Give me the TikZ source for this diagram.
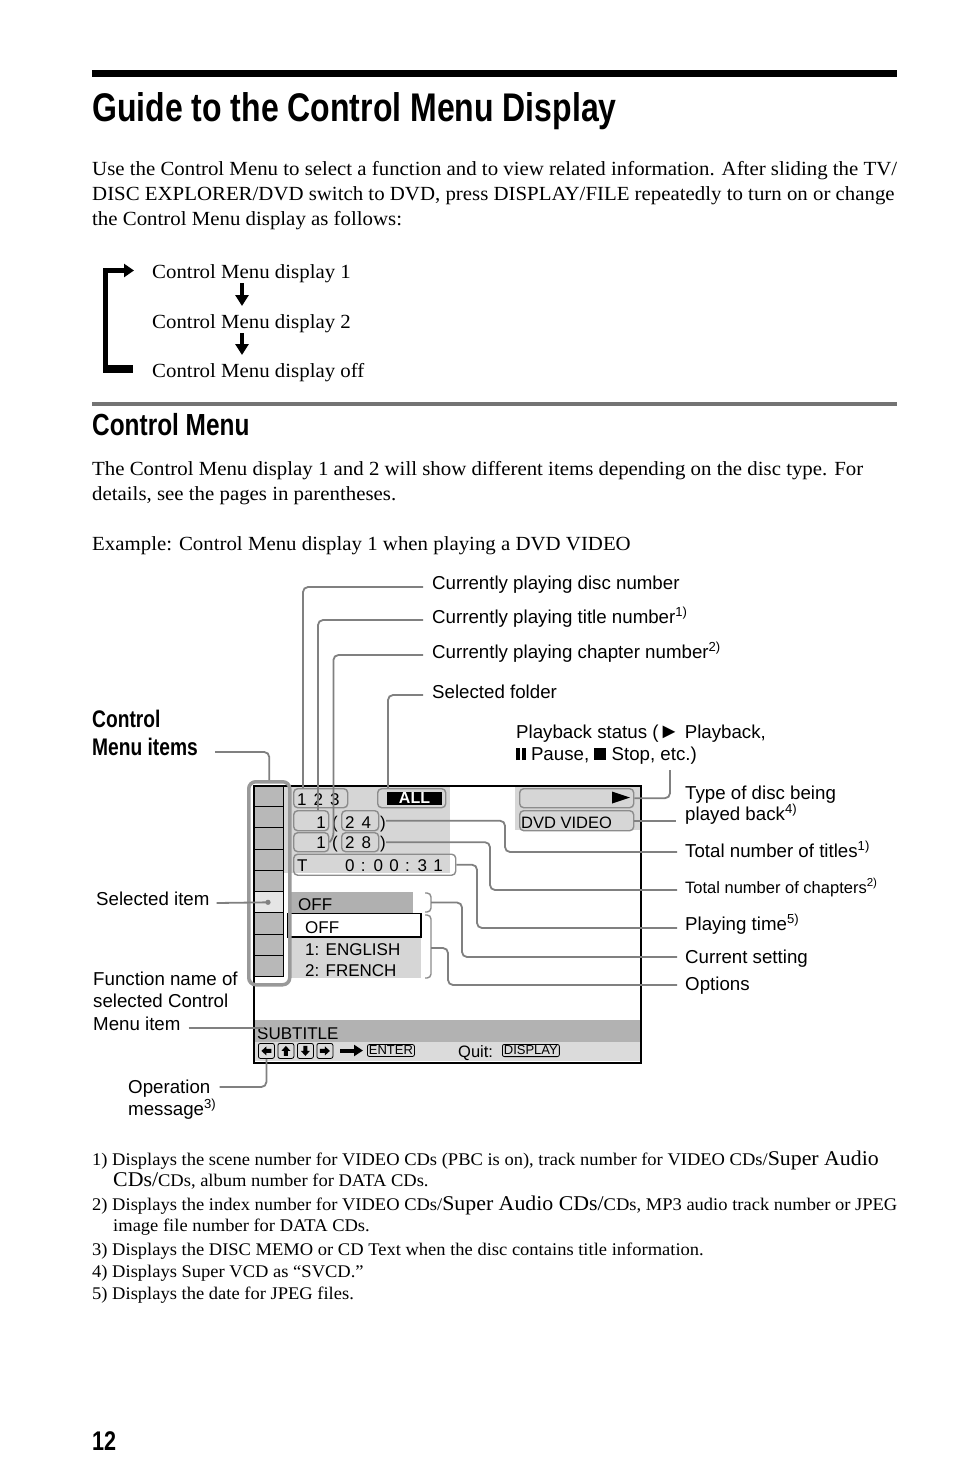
\documentclass[tikz,border=0pt]{standalone}
\usepackage{fontspec}
\setmainfont[FakeStretch=1.04]{Liberation Serif}
\newfontfamily\hv{Liberation Sans}
\newfontfamily\hvb{Liberation Sans Bold}
\newfontfamily\cond[FakeStretch=0.8]{Liberation Sans Bold}
\usetikzlibrary{arrows.meta,calc}
\newcommand\fs[1]{\fontsize{#1pt}{#1pt}\selectfont}
\definecolor{zone}{gray}{0.84}
\definecolor{cellgray}{gray}{0.72}
\definecolor{selgray}{gray}{0.9}
\definecolor{offgray}{gray}{0.69}
\definecolor{optgray}{gray}{0.84}
\definecolor{subgray}{gray}{0.7}
\definecolor{lowgray}{gray}{0.86}
\definecolor{boxgray}{gray}{0.55}
\definecolor{callgray}{gray}{0.5}
\definecolor{framegray}{gray}{0.6}
\definecolor{rulegray}{gray}{0.45}
\begin{document}
\begin{tikzpicture}[x=1pt,y=-1pt,
  txt/.style={inner sep=0pt, anchor=base west},
  body/.style={txt, font=\fs{20.05}},
  foot/.style={txt, font=\fs{17.8}},
  lbl/.style={txt, font=\hv\fs{18.7}},
  scr/.style={txt, font=\hv\fs{17}},
  call/.style={draw=callgray, line width=1.8pt, rounded corners=5pt},
  sbox/.style={draw=boxgray, line width=1.4pt, rounded corners=4pt, anchor=north west, inner sep=0pt},
  flowarr/.style={line width=4.5pt, -{Triangle[width=13pt,length=11pt]}},
  icon/.style={draw, line width=0.8pt, rounded corners=2pt, minimum width=16pt, minimum height=15pt, anchor=north west, inner sep=0pt},
  keybox/.style={draw, line width=0.8pt, rounded corners=2pt, inner sep=1.5pt, font=\hv\fs{13}},
  arr/.pic={\fill (-5,0) -- (0,-4.5) -- (0,-2) -- (5,-2) -- (5,2) -- (0,2) -- (0,4.5) -- cycle;}
]
\fill[white] (0,0) rectangle (954,1483);
\useasboundingbox (0,0) rectangle (954,1483);

% header
\draw[line width=7pt] (92,73.5) -- (897,73.5);
\node[txt, font=\cond\fs{40}] (h1) at (92,121) {Guide to the Control Menu Display};
\node[body] (p1) at (92,175) {Use the Control Menu to select a function and to view related information. After sliding the TV/};
\node[body] (p2) at (92,200) {DISC EXPLORER/DVD switch to DVD, press DISPLAY/FILE repeatedly to turn on or change};
\node[body] (p3) at (92,225) {the Control Menu display as follows:};

% flow
\node[body] (f1) at (152,278) {Control Menu display 1};
\node[body] (f2) at (152,328) {Control Menu display 2};
\node[body] (f3) at (152,377) {Control Menu display off};
\draw[flowarr] ($(f1.base west)+(90,5)$) -- ($(f2.base west)+(90,-22)$);
\draw[flowarr] ($(f2.base west)+(90,5)$) -- ($(f3.base west)+(90,-22)$);
\fill (103,365) rectangle (133,373);
\draw[line width=5pt, line join=miter, -{Triangle[width=13pt,length=10pt]}] ($(f3.base west)+(-19,-8)$) -- (105.5,369) -- (105.5,270.5) -- ($(f1.base west)+(-18,-7.5)$);

% section
\draw[rulegray, line width=4pt] (92,404) -- (897,404);
\node[txt, font=\cond\fs{30.5}] (h2) at (92,435) {Control Menu};
\node[body] (q1) at (92,475) {The Control Menu display 1 and 2 will show different items depending on the disc type. For};
\node[body] (q2) at (92,500) {details, see the pages in parentheses.};
\node[body] (q3) at (92,550) {Example: Control Menu display 1 when playing a DVD VIDEO};

% screen fills
\fill[zone] (283,785) rectangle (450,873);
\fill[zone] (515,785) rectangle (640,830);
\fill[subgray] (253,1020) rectangle (640,1042);
\fill[lowgray] (253,1042) rectangle (640,1061);
\fill[offgray] (288,892) rectangle (413,913);
\fill[optgray] (288,913) rectangle (421,978);
\draw[line width=1.5pt, fill=white] (288,913.5) rectangle (421,937);

% cells
\foreach \i in {0,...,8} {
  \draw[line width=1pt, fill=cellgray] (253,{785+\i*21.33}) rectangle (283,{785+(\i+1)*21.33});
}
\draw[line width=1pt, fill=selgray] (253,{785+5*21.33}) rectangle (283,{785+6*21.33});
\coordinate (dot) at (268,{785+5.5*21.33});
\fill[callgray] (dot) circle (2.6pt);

% screen frame
\node[draw, line width=2pt, anchor=north west, minimum width=387pt, minimum height=277pt, inner sep=0pt] (scr) at (253,785) {};
\node[draw=framegray, line width=3.5pt, rounded corners=7pt, anchor=north west, minimum width=41pt, minimum height=203pt, inner sep=0pt] (cfr) at (247,780) {};

% top-left boxes
\node[sbox, minimum width=54pt, minimum height=19pt] (b123) at (293,788) {};
\node[scr] (t123) at (297,805) {\spaceskip=7pt 1 2 3};
\node[sbox, minimum width=68pt, minimum height=19pt] (bALL) at (377,788) {};
\node[fill=black, text=white, font=\hvb\fs{16}, inner sep=0pt, minimum width=55pt, minimum height=13pt] (tAll) at (414.5,798) {ALL};
\node[sbox, minimum width=35pt, minimum height=20pt] (b1a) at (293,810) {};
\node[scr, anchor=base east] (t1a) at (326,828) {1};
\node[scr] (oa1) at (332,828) {(};
\node[sbox, minimum width=37pt, minimum height=20pt] (b24) at (341,810) {};
\node[scr] (t24) at (345,828) {\spaceskip=7pt 2 4};
\node[scr] (pa1) at (380,828) {)};
\node[sbox, minimum width=35pt, minimum height=19pt] (b1b) at (293,832) {};
\node[scr, anchor=base east] (t1b) at (326,848) {1};
\node[scr] (ob1) at (332,848) {(};
\node[sbox, minimum width=37pt, minimum height=19pt] (b28) at (341,832) {};
\node[scr] (t28) at (345,848) {\spaceskip=7pt 2 8};
\node[scr] (pb1) at (380,848) {)};
\node[sbox, minimum width=162pt, minimum height=21pt] (bT) at (293,853.5) {};
\node[scr] (tT) at (297,871) {T};
\node[scr] (tTime) at (345,871) {\spaceskip=6.3pt 0 : 0 0 : 3 1};

% top-right boxes
\node[sbox, minimum width=114pt, minimum height=19pt] (bPlay) at (519,788) {};
\fill (612,791.5) -- (630,797.5) -- (612,803.5) -- cycle;
\node[sbox, minimum width=114pt, minimum height=20pt] (bDVD) at (519,810) {};
\node[txt, font=\hv\fs{16.5}] (tDVD) at (521,828) {DVD VIDEO};

% subtitle options
\node[scr] (tOff) at (298,910) {OFF};
\node[scr] (tOff2) at (305,933) {OFF};
\node[scr] (tEng) at (305,955) {1: ENGLISH};
\node[scr] (tFr) at (305,976) {2: FRENCH};
\draw[boxgray, line width=1.4pt, rounded corners=4pt] (425,893) -- (431,893) -- (431,912) -- (425,912);
\draw[boxgray, line width=1.4pt, rounded corners=4pt] (425,915) -- (431,915) -- (431,978) -- (425,978);
\coordinate (br1) at (431,902.5);
\coordinate (br2) at (431,948);

% bottom bars
\node[scr] (tSub) at (257,1039) {SUBTITLE};
\foreach \i in {0,...,3} { \node[icon] (ic\i) at ({258+19.5*\i},1043) {}; }
\pic at (ic0.center) {arr};
\pic[rotate=-90] at (ic1.center) {arr};
\pic[rotate=90] at (ic2.center) {arr};
\pic[rotate=180] at (ic3.center) {arr};
\draw[line width=4pt, -{Triangle[width=11pt,length=9pt]}] (340,1050.5) -- (363,1050.5);
\node[keybox, anchor=west] (kEnter) at (367,1050.5) {ENTER};
\node[txt, font=\hv\fs{16.5}] (tQuit) at (458,1057) {Quit:};
\node[keybox, anchor=west] (kDisp) at (502,1050.5) {DISPLAY};

% right labels
\node[lbl] (lDisc) at (432,589) {Currently playing disc number};
\node[lbl] (lTitle) at (432,623) {Currently playing title number\textsuperscript{1)}};
\node[lbl] (lChap) at (432,658) {Currently playing chapter number\textsuperscript{2)}};
\node[lbl] (lFold) at (432,698) {Selected folder};
\node[lbl] (lPlay1) at (516,738) {Playback status (\resizebox{21pt}{12.5pt}{►} Playback,};
\node[lbl] (lPlay2) at (516,760) {\rule{3.6pt}{12pt}\hspace{2.4pt}\rule{3.6pt}{12pt}\ Pause, \rule{12pt}{12pt} Stop, etc.)};
\node[lbl] (lType1) at (685,799) {Type of disc being};
\node[lbl] (lType2) at (685,820) {played back\textsuperscript{4)}};
\node[lbl] (lTitles) at (685,857) {Total number of titles\textsuperscript{1)}};
\node[lbl, font=\hv\fs{16.5}] (lChaps) at (685,893) {Total number of chapters\textsuperscript{2)}};
\node[lbl] (lTime) at (685,930) {Playing time\textsuperscript{5)}};
\node[lbl] (lCur) at (685,963) {Current setting};
\node[lbl] (lOpt) at (685,990) {Options};

% left labels
\node[txt, font=\cond\fs{24}] (lItems1) at (92,727) {Control};
\node[txt, font=\cond\fs{24}] (lItems2) at (92,755) {Menu items};
\node[lbl] (lSel) at (96,905) {Selected item};
\node[lbl] (lFn1) at (93,985) {Function name of};
\node[lbl] (lFn2) at (93,1007) {selected Control};
\node[lbl] (lFn3) at (93,1030) {Menu item};
\node[lbl] (lOp1) at (128,1093) {Operation};
\node[lbl] (lOp2) at (128,1115) {message\textsuperscript{3)}};

% callouts
\draw[call] ($(lDisc.base west)+(-9,-2)$) -| ([xshift=10pt]b123.north west);
\draw[call] ($(lTitle.base west)+(-9,-3)$) -| ([xshift=25pt]b1a.north west);
\draw[call] ($(lChap.base west)+(-9,-3)$) -| ($(b1b.east)+(4,-4)$) -- (b1b.east);
\draw[call] ($(lFold.base west)+(-9,-3)$) -| ([xshift=11pt]bALL.north west);
\draw[call] ($(lPlay2.base west)+(154,10)$) |- (bPlay.east);
\draw[call] (bDVD.east) -- ($(bDVD.east -| lType2.base west)+(-9,0)$);
\draw[call] (pa1.east |- b24.east) -| (505,852) -- ($(lTitles.base west)+(-8,-5)$);
\draw[call] (pb1.east |- b28.east) -| (490,890) -- ($(lChaps.base west)+(-8,-3)$);
\draw[call] (bT.east) -| (477,928) -- ($(lTime.base west)+(-8,-2)$);
\draw[call] (br1) -| (462,957) -- ($(lCur.base west)+(-8,-6)$);
\draw[call] (br2) -| (448,985) -- ($(lOpt.base west)+(-8,-5)$);
\draw[call] ($(lItems2.base east)+(17,-3)$) -| (cfr.north);
\draw[call] ($(lSel.base east)+(7,-2)$) -- (dot);
\draw[call] ($(lFn3.base east)+(8,-2)$) -- ($(tSub.base west)+(7,-11)$);
\draw[call] ($(lOp1.base east)+(9,-6)$) -| (ic0.south);

% footnotes
\node[foot] (n1) at (92,1165) {1) Displays the scene number for VIDEO CDs (PBC is on), track number for VIDEO CDs/{\fs{21}Super Audio}};
\node[foot] (n1b) at (113,1186) {{\fs{21}CDs/}CDs, album number for DATA CDs.};
\node[foot] (n2) at (92,1210) {2) Displays the index number for VIDEO CDs/{\fs{21}Super Audio CDs/}CDs, MP3 audio track number or JPEG};
\node[foot] (n2b) at (113,1231) {image file number for DATA CDs.};
\node[foot] (n3) at (92,1255) {3) Displays the DISC MEMO or CD Text when the disc contains title information.};
\node[foot] (n4) at (92,1277) {4) Displays Super VCD as “SVCD.”};
\node[foot] (n5) at (92,1299) {5) Displays the date for JPEG files.};

\node[txt, font=\cond\fs{27}] (pg) at (92,1450) {12};
\end{tikzpicture}
\end{document}
